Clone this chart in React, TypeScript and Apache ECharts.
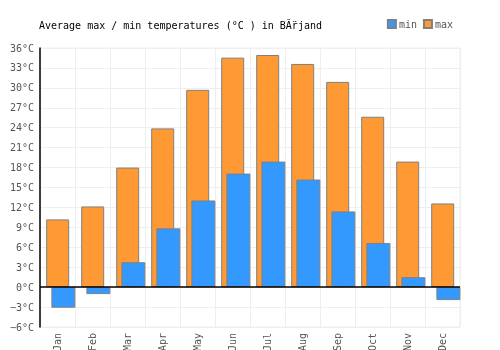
import React, { useEffect, useRef } from "react";
import * as echarts from "echarts";

const months = ["Jan", "Feb", "Mar", "Apr", "May", "Jun", "Jul", "Aug", "Sep", "Oct", "Nov", "Dec"];
const maxTemps = [10.2, 12.15, 18.0, 23.9, 29.7, 34.55, 34.95, 33.6, 30.9, 25.65, 18.9, 12.6];
const minTemps = [-3.1, -1.05, 3.75, 8.85, 13.05, 17.1, 18.9, 16.2, 11.4, 6.65, 1.5, -1.95];
const titleText = "Average max / min temperatures (°C ) in B\u0102\u0308rjand";

const FONT = "DejaVu Sans Mono";

export default function App() {
  const ref = useRef<HTMLDivElement>(null);
  useEffect(() => {
    if (!ref.current) return;
    const chart = echarts.init(ref.current, null, { renderer: "svg" });
    chart.setOption({
      animation: false,
      textStyle: { fontFamily: FONT },
      title: {
        text: titleText,
        left: 34,
        top: 15,
        textStyle: { fontFamily: FONT, fontSize: 10, fontWeight: "normal", color: "#000" },
      },
      legend: {
        data: ["min", "max"],
        right: 42,
        top: 14,
        itemWidth: 8,
        itemHeight: 8,
        itemGap: 6,
        icon: "rect",
        textStyle: { fontFamily: FONT, fontSize: 10, color: "#555", padding: [0, 0, 0, -2] },
      },
      grid: {
        left: 40,
        right: 40,
        top: 48,
        bottom: 23,
        show: true,
        borderColor: "#eee",
        borderWidth: 1,
        containLabel: false,
        outerBoundsMode: "none",
      },
      xAxis: {
        type: "category",
        data: months,
        axisLine: { show: false, onZero: false },
        axisTick: { show: false },
        splitLine: { show: true, lineStyle: { color: "#eee", width: 1 } },
        axisLabel: { rotate: 90, margin: 6, color: "#555", fontFamily: FONT, fontSize: 10, interval: 0 },
      },
      yAxis: {
        type: "value",
        min: -6,
        max: 36,
        interval: 3,
        axisLine: { show: true, lineStyle: { color: "#000", width: 1.5 } },
        axisTick: { show: false },
        splitLine: { show: true, lineStyle: { color: "#eee", width: 1 } },
        axisLabel: {
          margin: 6,
          color: "#555",
          fontFamily: FONT,
          fontSize: 10,
          formatter: (v: number) => `${v}`.replace("-", "\u2212") + "°C",
        },
      },
      series: [
        {
          name: "max",
          type: "bar",
          data: maxTemps,
          barWidth: 23,
          barGap: "-77.4%",
          itemStyle: { color: "#ff9933", borderColor: "#808080", borderWidth: 1 },
          markLine: {
            silent: true,
            symbol: "none",
            label: { show: false },
            lineStyle: { color: "#000", width: 1.5, type: "solid" },
            data: [{ yAxis: 0 }],
          },
        },
        {
          name: "min",
          type: "bar",
          data: minTemps,
          barWidth: 24,
          barGap: "-77.4%",
          itemStyle: { color: "#3399ff", borderColor: "#808080", borderWidth: 1 },
          z: 3,
        },
        {
          name: "spacer",
          type: "bar",
          data: months.map(() => null),
          barWidth: 12,
          barGap: "-77.4%",
          silent: true,
        },
      ],
    });
    return () => chart.dispose();
  }, []);
  return <div ref={ref} style={{ position: "fixed", left: 0, top: 0, width: 500, height: 350 }} />;
}
